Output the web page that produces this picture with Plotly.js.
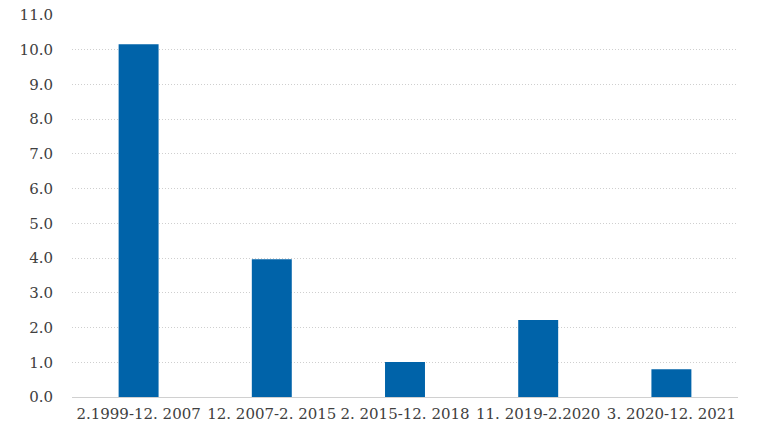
<!DOCTYPE html>
<html>
<head>
<meta charset="utf-8">
<script src="https://cdn.plot.ly/plotly-3.0.1.min.js"></script>
<style>html,body{margin:0;padding:0;background:#fff;}#chart{width:778px;height:440px;}</style>
</head>
<body>
<div id="chart"></div>
<script>
const categories = ["2.1999-12. 2007", "12. 2007-2. 2015", "2. 2015-12. 2018", "11. 2019-2.2020", "3. 2020-12. 2021"];
const values = [10.16, 3.97, 1.01, 2.22, 0.80];
const yTicks = [0,1,2,3,4,5,6,7,8,9,10,11];
const yTickLabels = yTicks.map(v => v.toFixed(1));

const fontFam = "DejaVu Serif, serif";
Plotly.newPlot("chart", [{
  type: "bar",
  x: categories,
  y: values,
  width: 0.3,
  marker: {color: "#0063A9"},
  hoverinfo: "x+y"
}], {
  width: 778, height: 440,
  margin: {l: 72, r: 40, t: 15, b: 43},
  paper_bgcolor: "#fff", plot_bgcolor: "#fff",
  font: {family: fontFam, size: 15, color: "#404040"},
  showlegend: false,
  xaxis: {
    type: "category",
    showgrid: false,
    showline: true, linecolor: "#d0d0d0", linewidth: 1,
    ticks: "", tickfont: {family: fontFam, size: 15, color: "#404040"},
    ticklabelstandoff: 3
  },
  yaxis: {
    range: [0, 11],
    tickvals: yTicks, ticktext: yTickLabels,
    showgrid: true, gridcolor: "#cfcfcf", griddash: "1px,2px", gridwidth: 1,
    zeroline: false, showline: false, ticks: "",
    tickfont: {family: fontFam, size: 15, color: "#404040"},
    ticklabelstandoff: 18
  }
}, {displayModeBar: false, staticPlot: true});
</script>
</body>
</html>
